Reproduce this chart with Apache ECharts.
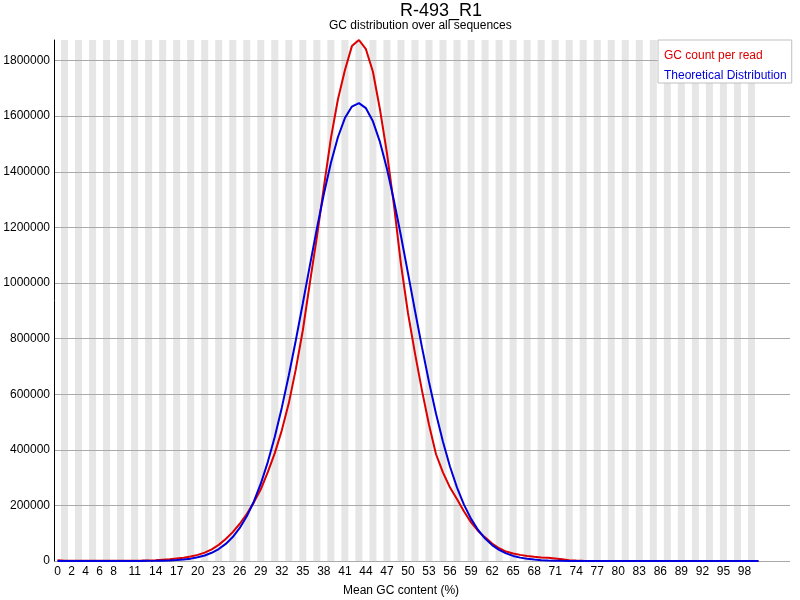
<!DOCTYPE html>
<html lang="en">
<head>
    <meta charset="UTF-8">
    <title>R-493_R1 GC distribution</title>
    <script src="https://cdn.jsdelivr.net/npm/echarts@6/dist/echarts.min.js"></script>
    <style>html, body { margin: 0; padding: 0; background: #fff; }</style>
</head>
<body>
<div id="gcChart" style="width: 800px;height: 600px"></div>

<script>

    // mean GC content (%) categories 0..100
    var gcPercent = [];
    for (var i = 0; i <= 100; i++) {
        gcPercent.push(i);
    }

    // labels FastQC prints under the x axis
    var xTickLabels = [0, 2, 4, 6, 8, 11, 14, 17, 20, 23, 26, 29, 32, 35, 38, 41, 44, 47,
        50, 53, 56, 59, 62, 65, 68, 71, 74, 77, 80, 83, 86, 89, 92, 95, 98];

    var gcCountPerRead = [
        3000, 1200, 900, 800, 800, 800, 900, 900, 1000, 1000,
        1100, 1200, 1500, 2000, 3000, 4500, 6000, 9000, 12000, 16000,
        22000, 30000, 42000, 58000, 79000, 104000, 134000, 169000, 210000, 258000,
        320000, 388000, 470000, 568000, 690000, 830000, 1000000, 1165000, 1345000, 1520000,
        1660000, 1765000, 1852000, 1874000, 1841000, 1760000, 1625000, 1467000, 1280000, 1067000,
        892000, 747000, 613000, 490000, 384000, 318000, 264000, 222000, 178000, 139000,
        108000, 85000, 63000, 46000, 34000, 27000, 22000, 18000, 15000, 13000,
        12000, 9000, 6000, 3000, 1500, 500, 400, 300, 200, 200,
        100, 100, 100, 0, 0, 0, 0, 0, 0, 0,
        0, 0, 0, 0, 0, 0, 0, 0, 0, 0,
        0
    ];

    var theoreticalDist = [
        0, 0, 0, 0, 0, 0, 0, 0, 20, 40,
        80, 150, 260, 450, 800, 1300, 2100, 3400, 5500, 8500,
        13200, 19900, 29500, 43000, 61400, 86100, 118800, 160600, 213300, 278000,
        355800, 447200, 551600, 668000, 794200, 927100, 1062500, 1195400, 1320300, 1431700,
        1524300, 1593100, 1634700, 1647000, 1628800, 1581500, 1507500, 1410900, 1296200, 1169200,
        1035500, 900100, 768300, 643800, 529700, 427700, 339100, 264000, 201800, 151400,
        111500, 80700, 57300, 39900, 27300, 18300, 12100, 7800, 5000, 3100,
        1900, 1100, 700, 400, 230, 130, 70, 40, 20, 0,
        0, 0, 0, 0, 0, 0, 0, 0, 0, 0,
        0, 0, 0, 0, 0, 0, 0, 0, 0, 0,
        0
    ];

    // the plot area runs a few empty slots past 100
    var axisCats = gcPercent.concat(['', '', '', '']);

    // grey band behind every odd category
    var stripeCats = gcPercent.filter(function (v) { return v % 2 === 1; });

    var chartDom = document.getElementById('gcChart');
    var myChart = echarts.init(chartDom);
    var option;

    option = {
        animation: false,
        textStyle: {fontFamily: 'Liberation Sans'},
        title: [
            {
                text: 'R-493_R1', left: 400, top: 2, padding: 0,
                textStyle: {fontSize: 18, fontWeight: 'normal', color: '#000'}
            },
            {
                text: 'GC distribution over all sequences', left: 329, top: 20, padding: 0,
                textStyle: {fontSize: 12, fontWeight: 'normal', color: '#000'}
            },
            {
                text: 'Mean GC content (%)', left: 343, top: 585, padding: 0,
                textStyle: {fontSize: 12, fontWeight: 'normal', color: '#000'}
            }
        ],
        legend: {
            left: 658,
            top: 40,
            orient: 'vertical',
            selectedMode: false,
            itemWidth: 0,
            itemHeight: 0,
            itemGap: 8,
            padding: [10, 5, 1, 0],
            backgroundColor: '#fff',
            borderColor: '#c0c0c0',
            borderWidth: 1,
            textStyle: {fontSize: 12},
            data: [
                {name: 'GC count per read', textStyle: {color: '#dc0000'}},
                {name: 'Theoretical Distribution', textStyle: {color: '#0000dc'}}
            ]
        },
        grid: {left: 54, right: 10, top: 40, bottom: 39},
        xAxis: {
            type: 'category',
            data: axisCats,
            boundaryGap: true,
            z: 1,
            axisLine: {show: false},
            axisTick: {show: false},
            splitLine: {show: false},
            axisLabel: {
                interval: function (index, value) {
                    return xTickLabels.indexOf(Number(value)) !== -1 && value !== '';
                },
                fontSize: 12,
                color: '#000',
                margin: 5
            }
        },
        yAxis: {
            type: 'value',
            min: 0,
            max: function (ext) { return ext.max; },
            interval: 200000,
            z: 1,
            axisLine: {show: true, lineStyle: {color: '#000', width: 1}},
            axisTick: {show: false},
            axisLabel: {
                formatter: function (v) { return String(v); },
                showMaxLabel: false,
                fontSize: 12,
                color: '#000',
                margin: 4
            },
            splitLine: {show: true, showMaxLine: false, lineStyle: {color: '#aaaaaa', width: 1}}
        },
        series: [
            {
                name: 'stripes',
                type: 'custom',
                silent: true,
                z: 0,
                data: stripeCats.map(function (v) { return [v, 0]; }),
                encode: {x: 0, y: 1},
                renderItem: function (params, api) {
                    var pt = api.coord([api.value(0), 0]);
                    var w = api.size([1, 0])[0];
                    var cs = params.coordSys;
                    return {
                        type: 'rect',
                        shape: {x: pt[0] - w / 2, y: cs.y, width: w, height: cs.height},
                        style: {fill: '#e6e6e6'}
                    };
                }
            },
            {
                name: 'GC count per read',
                type: 'line',
                z: 2,
                symbol: 'none',
                data: gcCountPerRead,
                lineStyle: {color: '#dc0000', width: 2},
                itemStyle: {color: '#dc0000'}
            },
            {
                name: 'Theoretical Distribution',
                type: 'line',
                z: 3,
                symbol: 'none',
                data: theoreticalDist,
                lineStyle: {color: '#0000dc', width: 2},
                itemStyle: {color: '#0000dc'}
            }
        ]
    };

    option && myChart.setOption(option);
</script>
</body>
</html>
